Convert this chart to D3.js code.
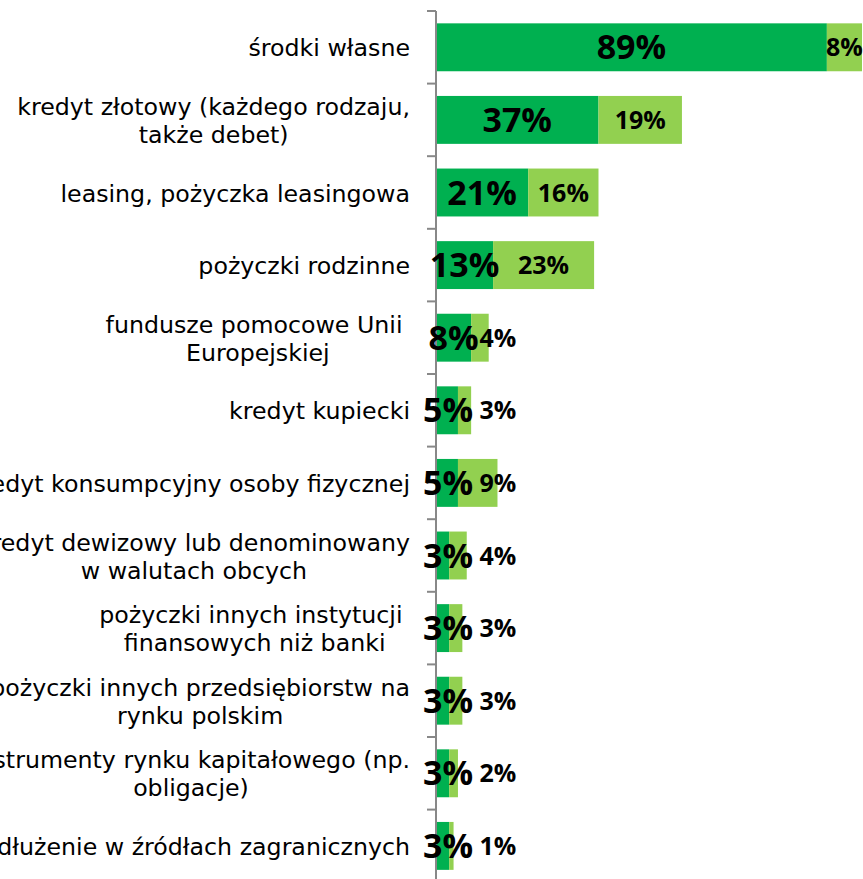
<!DOCTYPE html>
<html>
<head>
<meta charset="utf-8">
<script src="https://cdn.jsdelivr.net/npm/d3@7"></script>
<style>
  body { margin: 0; background: #fff; }
  svg { display: block; }
</style>
</head>
<body>
<svg id="chart" width="863" height="879"></svg>
<script>
// categories (one entry per line of the label)
var categories = [
  ["środki własne"],
  ["kredyt złotowy (każdego rodzaju,", "także debet)"],
  ["leasing, pożyczka leasingowa"],
  ["pożyczki rodzinne"],
  ["fundusze pomocowe Unii ", "Europejskiej"],
  ["kredyt kupiecki"],
  ["kredyt konsumpcyjny osoby fizycznej"],
  ["kredyt dewizowy lub denominowany", "w walutach obcych"],
  ["pożyczki innych instytucji ", "finansowych niż banki"],
  ["pożyczki innych przedsiębiorstw na", "rynku polskim"],
  ["instrumenty rynku kapitałowego (np.", "obligacje)"],
  ["zadłużenie w źródłach zagranicznych"]
];
var darkValues  = [89, 37, 21, 13, 8, 5, 5, 3, 3, 3, 3, 3];
var lightValues = [8, 19, 16, 23, 4, 3, 9, 4, 3, 3, 2, 1];

var darkGreen = "#00b050", lightGreen = "#92d050";
var axisX = 436, labelRight = 410;

var svg = d3.select("#chart");

var keys = categories.map(function(d, i) { return i; });

var y = d3.scaleBand()
  .domain(keys)
  .range([11, 11 + 12 * 72.6])
  .paddingInner(0.34)
  .paddingOuter(0.17);

var x = d3.scaleLinear().domain([0, 97]).range([axisX, 862]);

var rows = keys.map(function(i) {
  return { i: i, dark: darkValues[i], light: lightValues[i] };
});

// bars
var g = svg.append("g");
g.selectAll("rect.dark")
  .data(rows)
  .enter().append("rect")
  .attr("class", "dark")
  .attr("x", x(0))
  .attr("y", d => y(d.i))
  .attr("width", d => x(d.dark) - x(0))
  .attr("height", y.bandwidth())
  .attr("fill", darkGreen);

g.selectAll("rect.light")
  .data(rows)
  .enter().append("rect")
  .attr("class", "light")
  .attr("x", d => x(d.dark))
  .attr("y", d => y(d.i))
  .attr("width", d => x(d.dark + d.light) - x(d.dark))
  .attr("height", y.bandwidth())
  .attr("fill", lightGreen);

// axis with ticks on band edges
var axisColor = "#888888";
var edges = keys.map(i => y(i) - y.step() * y.paddingInner() / 2);
edges.push(y.range()[1]);
svg.append("line")
  .attr("x1", axisX).attr("x2", axisX)
  .attr("y1", edges[0]).attr("y2", 879)
  .attr("stroke", axisColor).attr("stroke-width", 2);
svg.selectAll("line.tick")
  .data(edges)
  .enter().append("line")
  .attr("class", "tick")
  .attr("x1", axisX - 9).attr("x2", axisX)
  .attr("y1", d => d).attr("y2", d => d)
  .attr("stroke", axisColor).attr("stroke-width", 2);

// category labels (left edge is cut off, as in the original)
var labelFont = "'DejaVu Sans', sans-serif";
var lineH = 28;
var labels = svg.append("g")
  .attr("font-family", labelFont)
  .attr("font-size", 23.7)
  .attr("fill", "#000");

rows.forEach(function(d) {
  var lines = categories[d.i];
  var cy = y(d.i) + y.bandwidth() / 2;
  var grp = labels.append("g");
  var texts = lines.map(function(t, k) {
    return grp.append("text")
      .style("white-space", "pre")
      .attr("text-anchor", "middle")
      .attr("y", cy + (k - (lines.length - 1) / 2) * lineH + 9)
      .text(t);
  });
  var w = d3.max(texts, t => t.node().getComputedTextLength());
  texts.forEach(t => t.attr("x", labelRight - w / 2));
});

// value labels
var valFont = "'Open Sans', 'Liberation Sans', sans-serif";
svg.append("g").selectAll("text")
  .data(rows)
  .enter().append("text")
  .attr("font-family", valFont)
  .attr("font-weight", "bold")
  .attr("font-size", 34)
  .attr("text-anchor", "middle")
  .attr("x", d => Math.max((x(0) + x(d.dark)) / 2, 448))
  .attr("y", d => y(d.i) + y.bandwidth() / 2 + 12)
  .text(d => d.dark + "%");

svg.append("g").selectAll("text")
  .data(rows)
  .enter().append("text")
  .attr("font-family", valFont)
  .attr("font-weight", "bold")
  .attr("font-size", 25)
  .attr("text-anchor", "middle")
  .attr("x", d => Math.max((x(d.dark) + x(d.dark + d.light)) / 2, 498))
  .attr("y", d => y(d.i) + y.bandwidth() / 2 + 9)
  .text(d => d.light + "%");
</script>
</body>
</html>
